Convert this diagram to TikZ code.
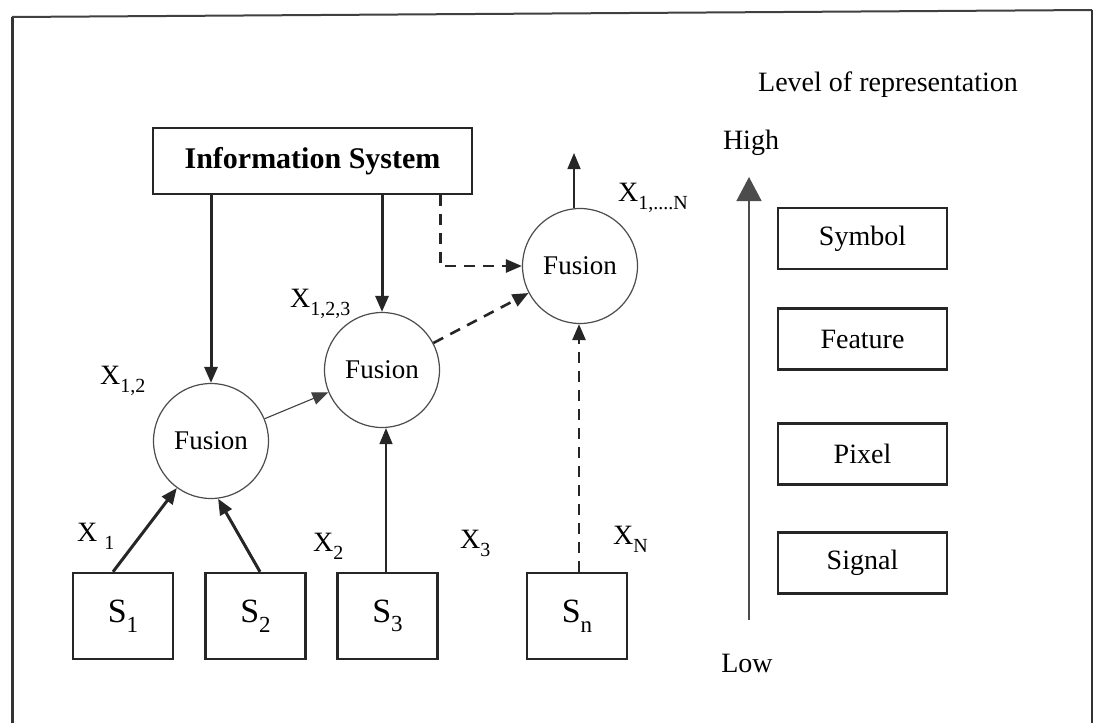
\documentclass[tikz,border=0pt]{standalone}
\usepackage{fontspec}
\setmainfont{Liberation Serif}
\usetikzlibrary{arrows.meta}
\newcommand{\sbs}[1]{\raisebox{-0.32em}{\fontsize{20}{20}\selectfont #1}}
\newcommand{\ssb}[1]{\raisebox{-0.28em}{\fontsize{23}{23}\selectfont #1}}
\begin{document}
\begin{tikzpicture}[x=1pt,y=-1pt,
  ink/.style={draw=black!85},
  sbox/.style={ink,line width=2.4pt,minimum width=100pt,minimum height=86pt,inner sep=0pt,font=\fontsize{34}{34}\selectfont},
  lbox/.style={ink,line width=2.2pt,minimum width=169pt,minimum height=61pt,inner sep=0pt,font=\fontsize{28}{28}\selectfont},
  fus/.style={circle,draw=black!70,line width=1.2pt,minimum size=115pt,inner sep=0pt,font=\fontsize{27}{27}\selectfont},
  lab/.style={font=\fontsize{28}{28}\selectfont,inner sep=0pt},
  tip/.style={-{Triangle[length=16pt,width=13pt]}},
  thickarr/.style={tip,draw=black!85,line width=3pt},
  thinarr/.style={tip,draw=black!85,line width=1.5pt},
  hairarr/.style={tip,draw=black!75,line width=1.1pt},
  dasharr/.style={tip,draw=black!85,line width=2.6pt,dash pattern=on 11pt off 8pt}
]
\useasboundingbox (0,0) rectangle (1097,723);
\fill[white] (0,0) rectangle (1097,723);
% frame
\draw[black!80,line width=3pt] (12,723) -- (12,17);
\draw[black!75,line width=2pt] (12,17) -- (1092,10);
\draw[black!80,line width=2pt] (1092,10) -- (1092,723);

% nodes
\node[ink,line width=2.4pt,minimum width=319pt,minimum height=66pt,inner sep=0pt,
      font=\bfseries\fontsize{30}{30}\selectfont] (info) at (312.5,161) {Information System};
\node[fus] (f1) at (211,441) {Fusion};
\node[fus] (f2) at (382,370) {Fusion};
\node[fus] (f3) at (580,266) {Fusion};

\node[sbox] (s1) at (123,616) {S\ssb{1}};
\node[sbox] (s2) at (255.5,616) {S\ssb{2}};
\node[sbox] (s3) at (387.5,616) {S\ssb{3}};
\node[sbox] (sn) at (577,616) {S\ssb{n}};

\node[lbox] (sym) at (862.5,238.5) {Symbol};
\node[lbox] (fea) at (862.5,339) {Feature};
\node[lbox] (pix) at (862.5,454) {Pixel};
\node[lbox] (sig) at (862.5,563) {Signal};

\node[lab] (lvl) at (888,85) {Level of representation};
\node[lab] (high) at (751,143) {High};
\node[lab] (low) at (747,663) {Low};
\coordinate (lvlb) at (749,620);
\coordinate (lvlt) at (749,177);
\coordinate (fout) at (574,153);

% labels
\node[lab,anchor=base west] (x12) at (100,384) {X\sbs{1,2}};
\node[lab,anchor=base west] (x123) at (290,307) {X\sbs{1,2,3}};
\node[lab,anchor=base west] (x1N) at (618,201) {X\sbs{1,....N}};
\node[lab,anchor=base west] (x1) at (77,541) {X\hspace{7pt}\sbs{1}};
\node[lab,anchor=base west] (x2) at (313,551) {X\sbs{2}};
\node[lab,anchor=base west] (x3) at (460,548) {X\sbs{3}};
\node[lab,anchor=base west] (xn) at (613,544) {X\sbs{N}};

% connectors
\draw[thickarr] (f1 |- info.south) -- (f1.north);
\draw[thickarr] (f2 |- info.south) -- (f2.north);
\draw[dasharr] ([xshift=-33pt]info.south east) |- (f3.west);
\draw[hairarr] (f1) -- (f2);
\draw[dasharr] (f2) -- (f3);
\draw[thinarr] (f3.north -| fout) -- (fout);
\draw[thickarr] ([xshift=-10pt]s1.north) -- (f1.234);
\draw[thickarr] ([xshift=4.5pt]s2.north) -- (f1.277);
\draw[thinarr] ([xshift=-1.5pt]s3.north) -- ([xshift=-1.5pt]s3.north |- f2.south);
\draw[dasharr] ([xshift=2pt]sn.north) -- ([xshift=2pt]sn.north |- f3.south);
\draw[draw=black!70,line width=1.5pt,-{Triangle[length=24pt,width=25pt]}] (lvlb) -- (lvlt);
\end{tikzpicture}
\end{document}
